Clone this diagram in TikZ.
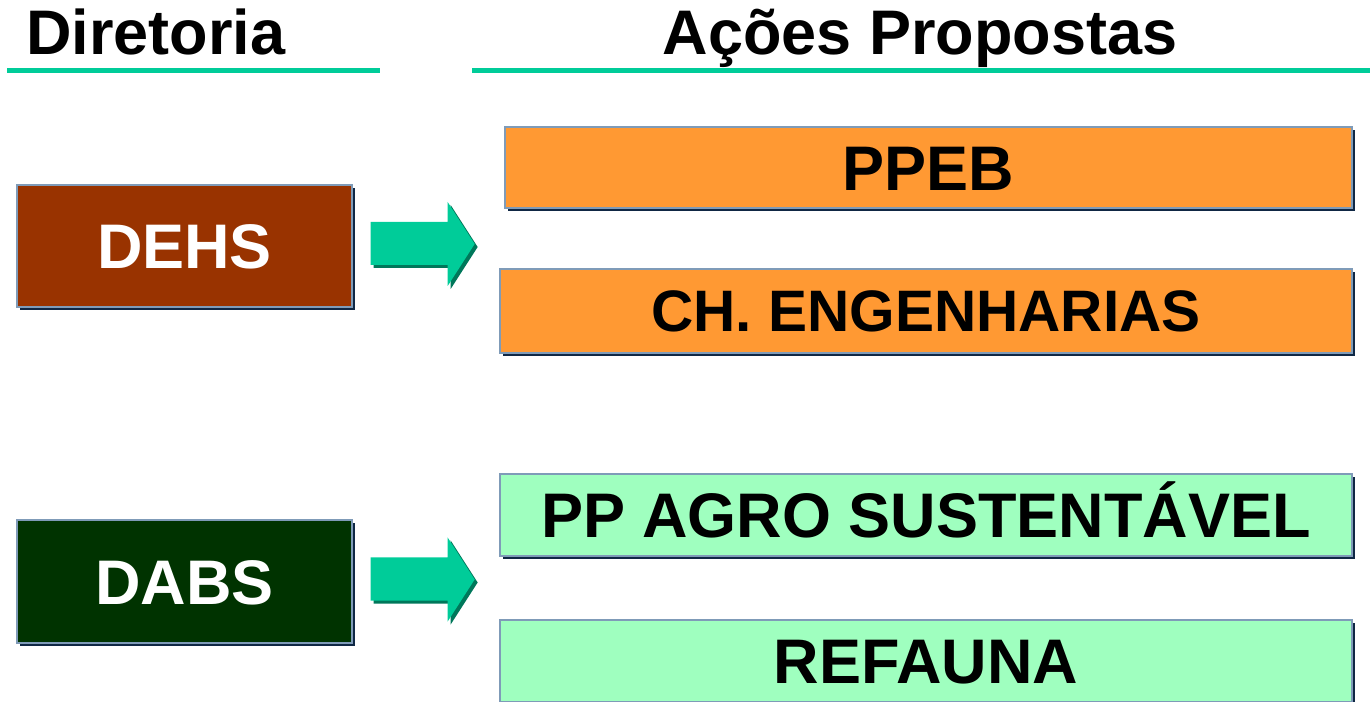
\documentclass[tikz,border=0pt]{standalone}
\usepackage{fontspec}
\setmainfont{Liberation Sans}
\usetikzlibrary{shadows}

\definecolor{dehsred}{HTML}{993300}
\definecolor{dabsgreen}{HTML}{003300}
\definecolor{actorange}{HTML}{FF9933}
\definecolor{actmint}{HTML}{9FFFBF}
\definecolor{linegreen}{HTML}{00CC99}
\definecolor{arrowdark}{HTML}{00775A}
\definecolor{edgeblue}{HTML}{7F9BB8}
\definecolor{shadowblue}{HTML}{0F2744}

\begin{document}
\begin{tikzpicture}[x=0.02cm,y=-0.02cm,
    every node/.style={font=\fontsize{35.85pt}{40pt}\selectfont\bfseries},
    box/.style={draw=edgeblue, line width=0.8pt, inner sep=0pt,
      text height=25.7pt, text depth=0pt,
      drop shadow={shadow xshift=0.06cm, shadow yshift=-0.06cm, fill=shadowblue, opacity=1}},
    dirbox/.style={box, minimum width=6.7cm, minimum height=2.44cm, text=white},
    actbox/.style={box, minimum width=17.04cm, minimum height=1.64cm},
    headline/.style={draw=linegreen, line width=0.1cm}]
  \useasboundingbox (0,0) rectangle (1370,702);
  \clip (0,0) rectangle (1370,702);

  % headers
  \node[anchor=base west] (dir) at (20,55) {Diretoria};
  \node[anchor=base] (acoes) at (920,55) {Ações Propostas};
  \draw[headline] (7,71) -- (380,71);
  \draw[headline] (472,71) -- (1370,71);

  % diretorias
  \node[dirbox, fill=dehsred] (DEHS) at (184.5,246) {DEHS};
  \node[dirbox, fill=dabsgreen, minimum height=2.46cm] (DABS) at (184.5,581.5) {DABS};

  % acoes
  \node[actbox, fill=actorange, minimum width=16.94cm, minimum height=1.62cm] (ppeb) at (928.5,167.5) {PPEB};
  \node[actbox, fill=actorange, minimum height=1.68cm, text height=23.9pt,
    font=\fontsize{33.3pt}{38pt}\selectfont\bfseries] (cheng) at (926,311) {CH. ENGENHARIAS};
  \node[actbox, fill=actmint] (agro) at (926,515) {PP AGRO SUSTENTÁVEL};
  \node[actbox, fill=actmint] (refauna) at (926,661) {REFAUNA};

  % setas
  \foreach \d in {DEHS,DABS}{
    \begin{scope}[shift={(\d.east)}]
      \fill[arrowdark] (21,-21) -- (98,-21) -- (98,-41) -- (125,1) -- (98,43) -- (98,22) -- (21,22) -- cycle;
      \fill[linegreen] (18,-24) -- (95,-24) -- (95,-44) -- (122,-2) -- (95,40) -- (95,19) -- (18,19) -- cycle;
    \end{scope}
  }
\end{tikzpicture}
\end{document}
